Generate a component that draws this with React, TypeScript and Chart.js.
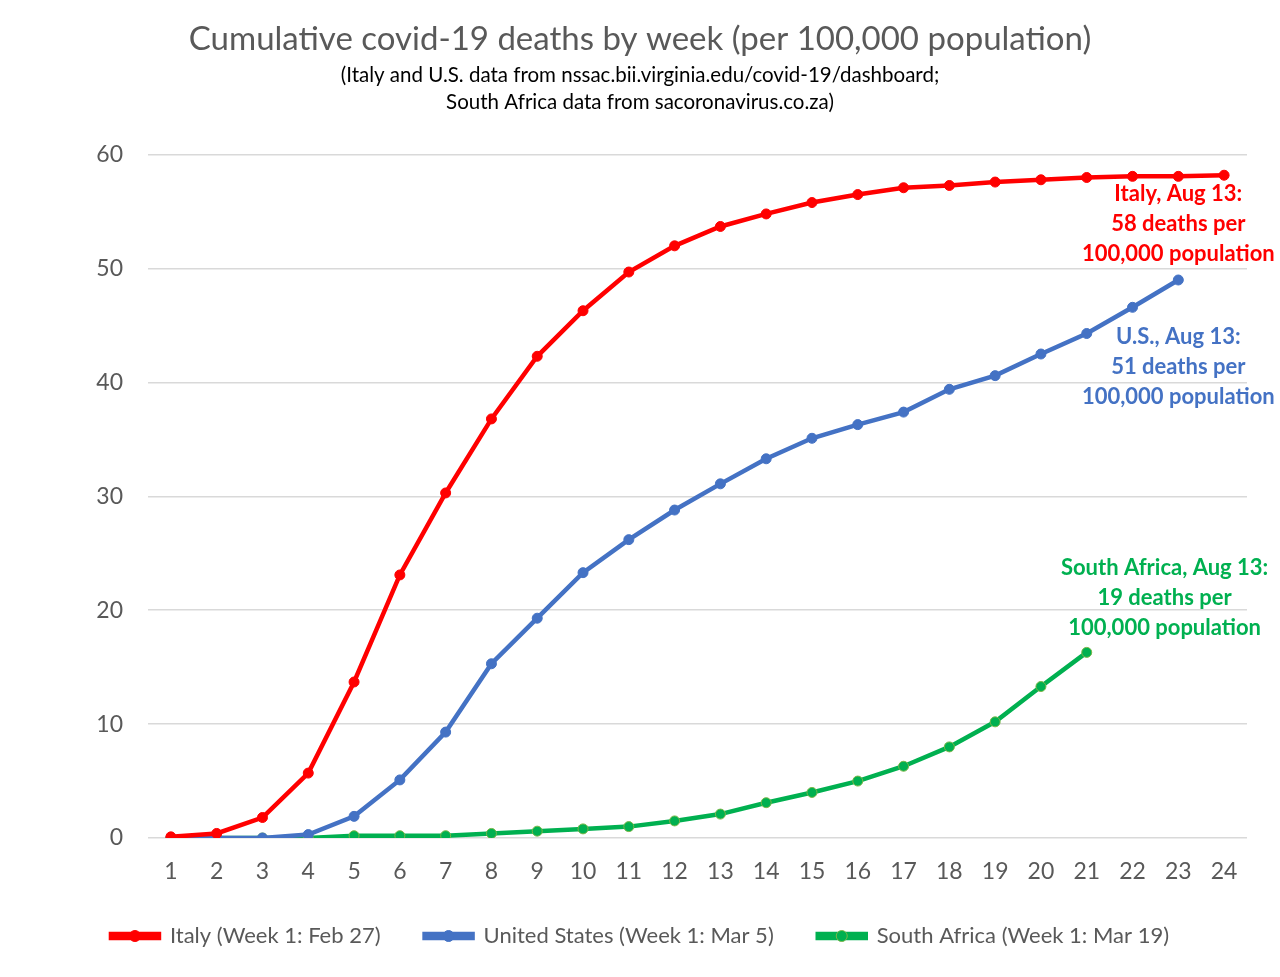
import { useEffect, useRef } from 'react';
import { Chart, registerables } from 'chart.js';

Chart.register(...registerables);

// Week numbers on the x axis
const weeks = ['1', '2', '3', '4', '5', '6', '7', '8', '9', '10', '11', '12', '13', '14', '15', '16', '17', '18', '19', '20', '21', '22', '23', '24'];

// Cumulative deaths per 100,000 population
const italy = [0.1, 0.4, 1.8, 5.7, 13.7, 23.1, 30.3, 36.8, 42.3, 46.3, 49.7, 52.0, 53.7, 54.8, 55.8, 56.5, 57.1, 57.3, 57.6, 57.8, 58.0, 58.1, 58.1, 58.2];
const unitedStates = [0, 0, 0, 0.3, 1.9, 5.1, 9.3, 15.3, 19.3, 23.3, 26.2, 28.8, 31.1, 33.3, 35.1, 36.3, 37.4, 39.4, 40.6, 42.5, 44.3, 46.6, 49.0];
const southAfrica = [0, 0, 0, 0, 0.2, 0.2, 0.2, 0.4, 0.6, 0.8, 1.0, 1.5, 2.1, 3.1, 4.0, 5.0, 6.3, 8.0, 10.2, 13.3, 16.3];

const seriesLabels = ['Italy (Week 1: Feb 27)', 'United States (Week 1: Mar 5)', 'South Africa (Week 1: Mar 19)'];

const titleText = 'Cumulative covid-19 deaths by week (per 100,000 population)';
const subtitleLines = [
    '(Italy and U.S. data from nssac.bii.virginia.edu/covid-19/dashboard;',
    'South Africa data from sacoronavirus.co.za)',
];

// Callout texts, anchored at (week index, value)
const italyNote = ['Italy, Aug 13:', '58 deaths per', '100,000 population'];
const usNote = ['U.S., Aug 13:', '51 deaths per', '100,000 population'];
const saNote = ['South Africa, Aug 13:', '19 deaths per', '100,000 population'];

const RED = '#FF0000';
const BLUE = '#4472C4';
const GREEN = '#00B050';
const GREY = '#595959';
const FONT = 'Lato, "Open Sans", sans-serif';

const notes = [
    { lines: italyNote, color: RED, at: [22, 56.6] },
    { lines: usNote, color: BLUE, at: [22, 44.0] },
    { lines: saNote, color: GREEN, at: [21.7, 23.7] },
];

// Draws the coloured callouts next to the line ends
const notesPlugin = {
    id: 'notes',
    afterDatasetsDraw(chart: any) {
        const { ctx, scales } = chart;
        ctx.save();
        ctx.font = `bold 22px ${FONT}`;
        ctx.textAlign = 'center';
        ctx.textBaseline = 'middle';
        notes.forEach(n => {
            const x = scales.x.getPixelForValue(n.at[0]);
            const y = scales.y.getPixelForValue(n.at[1]);
            ctx.fillStyle = n.color;
            n.lines.forEach((line, i) => ctx.fillText(line, x, y + i * 30));
        });
        ctx.restore();
    },
};

// Puts a marker circle on each legend line sample
const legendDotPlugin = {
    id: 'legendDots',
    afterDraw(chart: any) {
        const legend = chart.legend;
        if (!legend || !legend.legendHitBoxes) return;
        const { ctx } = chart;
        ctx.save();
        legend.legendHitBoxes.forEach((box: any, i: number) => {
            const ds = chart.data.datasets[i];
            const cx = box.left + 24;
            const cy = box.top + box.height / 2;
            ctx.beginPath();
            ctx.arc(cx, cy, 5.5, 0, Math.PI * 2);
            ctx.fillStyle = ds.pointBackgroundColor;
            ctx.fill();
            ctx.lineWidth = 1;
            ctx.strokeStyle = ds.pointBorderColor;
            ctx.stroke();
        });
        ctx.restore();
    },
};

const App = () => {
    const canvasRef = useRef<HTMLCanvasElement>(null);

    useEffect(() => {
        document.body.style.margin = '0';
        if (!canvasRef.current) return;
        const ctx = canvasRef.current.getContext('2d');
        if (!ctx) return;

        const line = (label: string, data: number[], color: string, border: string) => ({
            label,
            data,
            borderColor: color,
            backgroundColor: color,
            pointBackgroundColor: color,
            pointBorderColor: border,
            pointBorderWidth: 1,
            borderWidth: 4.5,
            pointRadius: 5,
            tension: 0,
        });

        const chart = new Chart(ctx, {
            type: 'line',
            data: {
                labels: weeks,
                datasets: [
                    line(seriesLabels[0], italy, RED, RED),
                    line(seriesLabels[1], unitedStates, BLUE, BLUE),
                    line(seriesLabels[2], southAfrica, GREEN, '#7AB648'),
                ],
            },
            options: {
                responsive: false,
                animation: false,
                layout: { padding: { left: 33, right: 33, top: 0, bottom: 20 } },
                scales: {
                    x: {
                        offset: true,
                        afterFit: (s: any) => { s.height = 43; },
                        grid: { display: false, drawTicks: false },
                        border: { display: false },
                        ticks: { color: GREY, font: { family: FONT, size: 23 }, padding: 20, maxRotation: 0, autoSkip: false },
                    },
                    y: {
                        min: 0,
                        max: 60,
                        afterFit: (s: any) => { s.width = 115; },
                        grid: { color: '#D9D9D9', lineWidth: 1.5, drawTicks: false },
                        border: { display: false },
                        ticks: { stepSize: 10, color: GREY, font: { family: FONT, size: 23 }, padding: 25 },
                    },
                },
                plugins: {
                    title: {
                        display: true,
                        text: titleText,
                        color: GREY,
                        font: { family: FONT, size: 33, weight: 'normal' },
                        padding: { top: 20, bottom: 2 },
                    },
                    subtitle: {
                        display: true,
                        text: subtitleLines,
                        color: '#000000',
                        font: { family: FONT, size: 20.5, lineHeight: 1.32 },
                        padding: { top: 0, bottom: 39 },
                    },
                    legend: {
                        position: 'bottom',
                        labels: {
                            color: GREY,
                            font: { family: FONT, size: 22 },
                            boxWidth: 48,
                            boxHeight: 4,
                            padding: 44,
                        },
                    },
                    tooltip: { enabled: false },
                },
            },
            plugins: [notesPlugin, legendDotPlugin],
        });

        return () => chart.destroy();
    }, []);

    return (
        <div style={{ width: 1280, height: 977, background: '#fff' }}>
            <canvas ref={canvasRef} width={1280} height={977} style={{ display: 'block' }} />
        </div>
    );
};

export default App;
